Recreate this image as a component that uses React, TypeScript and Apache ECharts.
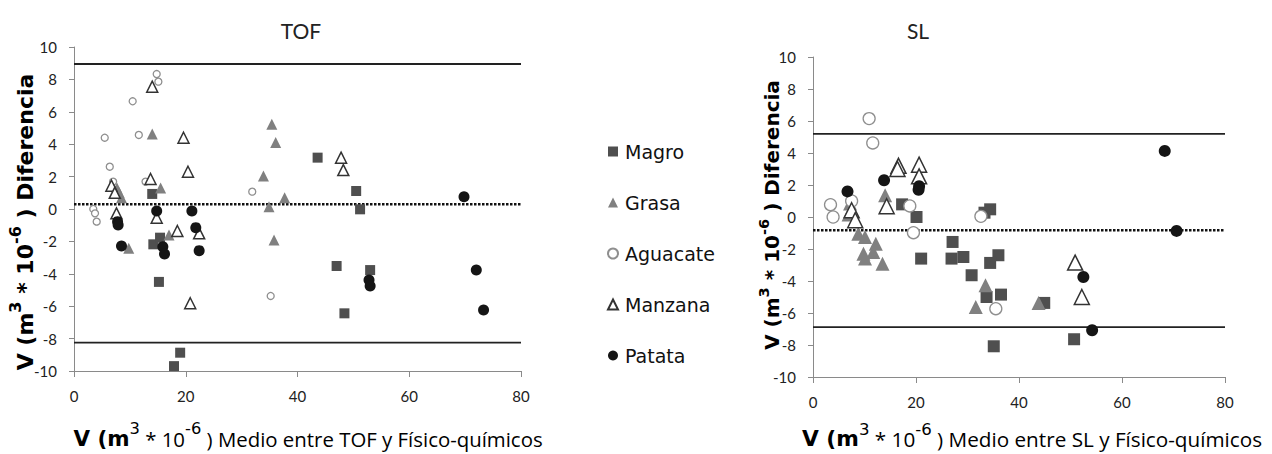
import React, { useEffect, useRef } from "react";
import * as echarts from "echarts";

// ---------- data (x = mean volume, y = difference) ----------
const seriesNames = ["Magro", "Grasa", "Aguacate", "Manzana", "Patata"];

const tofMagro = [[14.0, 0.93], [14.2, -2.18], [15.4, -1.77], [15.2, -4.5], [19.0, -8.87], [17.9, -9.7], [43.6, 3.17], [50.5, 1.11], [51.2, -0.02], [47.0, -3.52], [53.0, -3.77], [48.4, -6.44]];
const tofGrasa = [[14.0, 4.63], [15.5, 1.3], [7.7, 1.3], [8.1, 1.0], [8.5, 0.7], [35.4, 5.23], [36.1, 4.1], [33.9, 2.04], [37.7, 0.7], [34.9, 0.14], [35.8, -1.91], [17.0, -1.6], [9.8, -2.43]];
const tofAguacate = [[14.8, 8.33], [15.1, 7.86], [10.5, 6.65], [5.5, 4.4], [11.6, 4.57], [6.4, 2.61], [7.0, 1.69], [12.8, 1.69], [3.45, 0.0], [3.76, -0.27], [4.06, -0.78], [31.9, 1.07], [35.2, -5.37]];
const tofManzana = [[14.0, 7.55], [19.6, 4.4], [20.4, 2.3], [13.7, 1.85], [6.7, 1.44], [7.3, 1.0], [7.6, -0.27], [14.8, -0.54], [18.5, -1.36], [22.4, -1.5], [20.8, -5.82], [47.8, 3.17], [48.2, 2.4]];
const tofPatata = [[14.8, -0.12], [21.1, -0.12], [7.8, -0.78], [7.9, -0.99], [8.5, -2.28], [15.9, -2.33], [16.2, -2.78], [21.8, -1.15], [22.4, -2.57], [69.8, 0.76], [72.0, -3.77], [73.3, -6.23], [52.8, -4.38], [53.0, -4.75]];

const slMagro = [[17.3, 0.79], [20.1, 0.0], [21.0, -2.6], [34.4, 0.48], [33.3, 0.27], [27.1, -1.56], [26.9, -2.6], [29.2, -2.5], [36.0, -2.39], [34.4, -2.87], [30.8, -3.64], [33.7, -5.0], [36.5, -4.85], [44.9, -5.37], [35.1, -8.08], [50.7, -7.64]];
const slGrasa = [[7.2, 0.84], [6.9, 0.15], [8.8, -1.04], [10.1, -1.25], [9.8, -2.29], [10.1, -2.6], [11.7, -2.19], [12.2, -1.67], [13.5, -2.92], [14.0, 1.36], [33.5, -4.27], [31.6, -5.62], [43.8, -5.37]];
const slAguacate = [[10.9, 6.15], [11.6, 4.63], [3.4, 0.77], [3.9, 0.0], [18.8, 0.69], [19.5, -0.98], [7.5, 1.0], [32.6, 0.04], [35.5, -5.73]];
const slManzana = [[16.6, 3.2], [16.4, 3.0], [20.6, 3.27], [20.6, 2.54], [14.3, 0.67], [7.5, 0.42], [8.2, -0.2], [50.9, -2.85], [52.2, -5.0]];
const slPatata = [[6.7, 1.6], [13.8, 2.3], [20.6, 1.92], [20.5, 1.7], [68.3, 4.13], [70.6, -0.87], [52.5, -3.75], [54.2, -7.08]];

// limits of agreement: [upper, mean, lower]
const tofLimits = [8.95, 0.3, -8.25];
const slLimits = [5.2, -0.83, -6.88];

const xRange = [0, 80];
const yRange = [-10, 10];

const FONT = "'DejaVu Sans', Verdana, sans-serif";
const LFONT = "Lato, 'Open Sans', sans-serif";

export default function App() {
  const ref = useRef<HTMLDivElement>(null);

  useEffect(() => {
    if (!ref.current) return;
    const chart = echarts.init(ref.current, undefined, { renderer: "svg" });

    const styles: Record<string, any> = {
      Magro: { symbol: "rect", size: [10, 12], itemStyle: { color: "#4f4f4f" } },
      Grasa: { symbol: "triangle", size: [11, 14], itemStyle: { color: "#808080" } },
      Aguacate: { symbol: "circle", size: [7, 12], itemStyle: { color: "#ffffff", borderColor: "#8f8f8f", borderWidth: 1.3 } },
      Manzana: { symbol: "triangle", size: [11, 15], itemStyle: { color: "#ffffff", borderColor: "#333333", borderWidth: 1.5 } },
      Patata: { symbol: "circle", size: [11, 12], itemStyle: { color: "#151515" } },
    };

    const tofData: Record<string, number[][]> = {
      Magro: tofMagro, Grasa: tofGrasa, Aguacate: tofAguacate, Manzana: tofManzana, Patata: tofPatata,
    };
    const slData: Record<string, number[][]> = {
      Magro: slMagro, Grasa: slGrasa, Aguacate: slAguacate, Manzana: slManzana, Patata: slPatata,
    };

    const limitSeries = (limits: number[], idx: number) =>
      limits.map((v, i) => ({
        type: "line",
        name: "lim" + idx + "_" + i,
        xAxisIndex: idx,
        yAxisIndex: idx,
        data: [[xRange[0], v], [xRange[1], v]],
        symbol: "none",
        silent: true,
        lineStyle: i === 1
          ? { color: "#111", width: 2.5, type: [2.5, 1.5] }
          : { color: "#222", width: 1.8, type: "solid" },
        z: 1,
      }));

    const scatterSeries = (data: Record<string, number[][]>, idx: number) =>
      seriesNames.map((n) => ({
        type: "scatter",
        name: n,
        xAxisIndex: idx,
        yAxisIndex: idx,
        data: data[n],
        symbol: styles[n].symbol,
        symbolSize: styles[n].size[idx],
        itemStyle: { ...styles[n].itemStyle, opacity: 1 },
        z: 3,
      }));

    const xAxisBase = {
      type: "value",
      min: xRange[0],
      max: xRange[1],
      interval: 20,
      splitLine: { show: false },
      axisLine: { show: true, onZero: false, lineStyle: { color: "#8a8a8a", width: 1 } },
      axisTick: { show: true, length: 6, lineStyle: { color: "#8a8a8a" } },
      axisLabel: { fontSize: 15, color: "#222", margin: 17, fontFamily: LFONT },
    };
    const yAxisBase = {
      type: "value",
      min: yRange[0],
      max: yRange[1],
      interval: 2,
      splitLine: { show: false },
      axisLine: { show: true, onZero: false, lineStyle: { color: "#8a8a8a", width: 1 } },
      axisTick: { show: true, length: 5, lineStyle: { color: "#8a8a8a" } },
      axisLabel: { fontSize: 15, color: "#222", margin: 17, fontFamily: LFONT },
    };

    const xTitle = (label: string) =>
      "{b|V (m}{sup|3}{r| * 10}{sup|-6}{r| ) Medio entre " + label + " y Físico-químicos}";
    const xRich = (k: number) => ({
      b: { fontSize: 21 * k, fontWeight: "bold", fontFamily: FONT, color: "#111", lineHeight: 28 * k, verticalAlign: "bottom" },
      r: { fontSize: 20 * k, fontFamily: "'Open Sans', sans-serif", color: "#111", lineHeight: 28 * k, verticalAlign: "bottom" },
      sup: { fontSize: 16 * k, fontFamily: FONT, color: "#111", lineHeight: 16 * k, verticalAlign: "top" },
    });
    const yTitle = "{b|V (m}{sup|3}{b| * 10}{sup|-6}{b| ) Diferencia}";
    const yRich = (s: number) => ({
      b: { fontSize: s, fontWeight: "bold", fontFamily: FONT, color: "#111", lineHeight: s * 1.3, verticalAlign: "bottom" },
      sup: { fontSize: s * 0.73, fontWeight: "bold", fontFamily: FONT, color: "#111", lineHeight: s * 0.73, verticalAlign: "top" },
    });

    chart.setOption({
      animation: false,
      backgroundColor: "#ffffff",
      title: [
        { text: "TOF", left: 296, top: 15, textAlign: "center", textStyle: { fontSize: 21, fontWeight: "normal", color: "#222", fontFamily: LFONT } },
        { text: "SL", left: 913, top: 15, textAlign: "center", textStyle: { fontSize: 21, fontWeight: "normal", color: "#222", fontFamily: LFONT } },
      ],
      legend: {
        data: seriesNames,
        orient: "vertical",
        left: 602,
        top: 137,
        itemWidth: 10,
        itemHeight: 10,
        itemGap: 32,
        textStyle: { fontSize: 19, color: "#111", fontFamily: FONT, padding: [0, 0, 0, 2] },
        selectedMode: false,
      },
      grid: [
        { left: 74, top: 47, width: 447, height: 324 },
        { left: 813, top: 57, width: 412, height: 320 },
      ],
      xAxis: [{ ...xAxisBase, gridIndex: 0 }, { ...xAxisBase, gridIndex: 1 }],
      yAxis: [{ ...yAxisBase, gridIndex: 0 }, { ...yAxisBase, gridIndex: 1 }],
      series: [
        ...limitSeries(tofLimits, 0),
        ...limitSeries(slLimits, 1),
        ...scatterSeries(tofData, 0),
        ...scatterSeries(slData, 1),
      ],
      graphic: [
        { type: "text", x: 308, y: 435, style: { text: xTitle("TOF"), rich: xRich(1.02), align: "center", verticalAlign: "middle" } },
        { type: "text", x: 1032, y: 435, style: { text: xTitle("SL"), rich: xRich(1.035), align: "center", verticalAlign: "middle" } },
        { type: "text", x: 22, y: 222, rotation: Math.PI / 2, style: { text: yTitle, rich: yRich(22), align: "center", verticalAlign: "middle" } },
        { type: "text", x: 769, y: 215, rotation: Math.PI / 2, style: { text: yTitle, rich: yRich(20), align: "center", verticalAlign: "middle" } },
      ],
    });

    return () => chart.dispose();
  }, []);

  return (
    <div
      ref={ref}
      style={{ position: "absolute", left: 0, top: 0, width: 1272, height: 454, background: "#fff" }}
    />
  );
}
